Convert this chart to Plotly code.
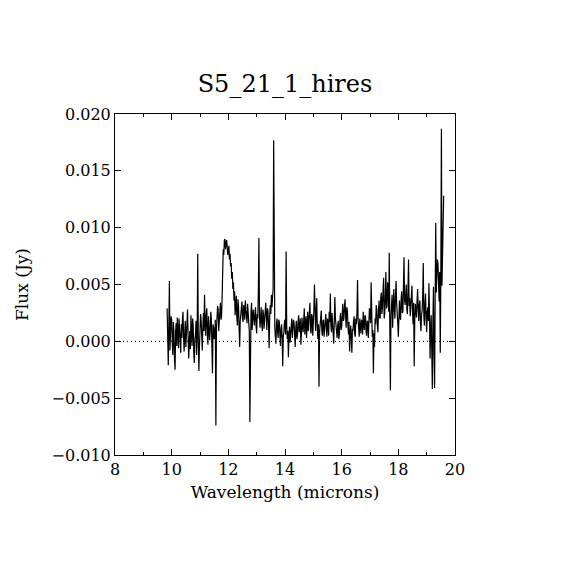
import plotly.graph_objects as go

# Spectrum (wavelength in microns, flux in mJy)
wavelength = [
    9.84, 9.86, 9.88, 9.90, 9.92, 9.94, 9.96, 9.98, 10.00, 10.02, 10.04, 10.06, 10.08, 10.10, 10.12, 10.14, 10.16, 10.18, 10.20, 10.22,
    10.24, 10.26, 10.28, 10.30, 10.32, 10.34, 10.36, 10.38, 10.40, 10.42, 10.44, 10.46, 10.48, 10.50, 10.52, 10.54, 10.56, 10.58, 10.60, 10.62,
    10.64, 10.66, 10.68, 10.70, 10.72, 10.74, 10.76, 10.78, 10.80, 10.82, 10.84, 10.86, 10.88, 10.90, 10.92, 10.94, 10.96, 10.98, 11.00, 11.02,
    11.04, 11.06, 11.08, 11.10, 11.12, 11.14, 11.16, 11.18, 11.20, 11.22, 11.24, 11.26, 11.28, 11.30, 11.32, 11.34, 11.36, 11.38, 11.40, 11.42,
    11.44, 11.46, 11.48, 11.50, 11.52, 11.54, 11.56, 11.58, 11.60, 11.62, 11.64, 11.66, 11.68, 11.70, 11.72, 11.74, 11.76, 11.78, 11.80, 11.82,
    11.84, 11.86, 11.88, 11.90, 11.92, 11.94, 11.96, 11.98, 12.00, 12.02, 12.04, 12.06, 12.08, 12.10, 12.12, 12.14, 12.16, 12.18, 12.20, 12.22,
    12.24, 12.26, 12.28, 12.30, 12.32, 12.34, 12.36, 12.38, 12.40, 12.42, 12.44, 12.46, 12.48, 12.50, 12.52, 12.54, 12.56, 12.58, 12.60, 12.62,
    12.64, 12.66, 12.68, 12.70, 12.72, 12.74, 12.76, 12.78, 12.80, 12.82, 12.84, 12.86, 12.88, 12.90, 12.92, 12.94, 12.96, 12.98, 13.00, 13.02,
    13.04, 13.06, 13.08, 13.10, 13.12, 13.14, 13.16, 13.18, 13.20, 13.22, 13.24, 13.26, 13.28, 13.30, 13.32, 13.34, 13.36, 13.38, 13.40, 13.42,
    13.44, 13.46, 13.48, 13.50, 13.52, 13.54, 13.56, 13.58, 13.60, 13.62, 13.64, 13.66, 13.68, 13.70, 13.72, 13.74, 13.76, 13.78, 13.80, 13.82,
    13.84, 13.86, 13.88, 13.90, 13.92, 13.94, 13.96, 13.98, 14.00, 14.02, 14.04, 14.06, 14.08, 14.10, 14.12, 14.14, 14.16, 14.18, 14.20, 14.22,
    14.24, 14.26, 14.28, 14.30, 14.32, 14.34, 14.36, 14.38, 14.40, 14.42, 14.44, 14.46, 14.48, 14.50, 14.52, 14.54, 14.56, 14.58, 14.60, 14.62,
    14.64, 14.66, 14.68, 14.70, 14.72, 14.74, 14.76, 14.78, 14.80, 14.82, 14.84, 14.86, 14.88, 14.90, 14.92, 14.94, 14.96, 14.98, 15.00, 15.02,
    15.04, 15.06, 15.08, 15.10, 15.12, 15.14, 15.16, 15.18, 15.20, 15.22, 15.24, 15.26, 15.28, 15.30, 15.32, 15.34, 15.36, 15.38, 15.40, 15.42,
    15.44, 15.46, 15.48, 15.50, 15.52, 15.54, 15.56, 15.58, 15.60, 15.62, 15.64, 15.66, 15.68, 15.70, 15.72, 15.74, 15.76, 15.78, 15.80, 15.82,
    15.84, 15.86, 15.88, 15.90, 15.92, 15.94, 15.96, 15.98, 16.00, 16.02, 16.04, 16.06, 16.08, 16.10, 16.12, 16.14, 16.16, 16.18, 16.20, 16.22,
    16.24, 16.26, 16.28, 16.30, 16.32, 16.34, 16.36, 16.38, 16.40, 16.42, 16.44, 16.46, 16.48, 16.50, 16.52, 16.54, 16.56, 16.58, 16.60, 16.62,
    16.64, 16.66, 16.68, 16.70, 16.72, 16.74, 16.76, 16.78, 16.80, 16.82, 16.84, 16.86, 16.88, 16.90, 16.92, 16.94, 16.96, 16.98, 17.00, 17.02,
    17.04, 17.06, 17.08, 17.10, 17.12, 17.14, 17.16, 17.18, 17.20, 17.22, 17.24, 17.26, 17.28, 17.30, 17.32, 17.34, 17.36, 17.38, 17.40, 17.42,
    17.44, 17.46, 17.48, 17.50, 17.52, 17.54, 17.56, 17.58, 17.60, 17.62, 17.64, 17.66, 17.68, 17.70, 17.72, 17.74, 17.76, 17.78, 17.80, 17.82,
    17.84, 17.86, 17.88, 17.90, 17.92, 17.94, 17.96, 17.98, 18.00, 18.02, 18.04, 18.06, 18.08, 18.10, 18.12, 18.14, 18.16, 18.18, 18.20, 18.22,
    18.24, 18.26, 18.28, 18.30, 18.32, 18.34, 18.36, 18.38, 18.40, 18.42, 18.44, 18.46, 18.48, 18.50, 18.52, 18.54, 18.56, 18.58, 18.60, 18.62,
    18.64, 18.66, 18.68, 18.70, 18.72, 18.74, 18.76, 18.78, 18.80, 18.82, 18.84, 18.86, 18.88, 18.90, 18.92, 18.94, 18.96, 18.98, 19.00, 19.02,
    19.04, 19.06, 19.08, 19.10, 19.12, 19.14, 19.16, 19.18, 19.20, 19.22, 19.24, 19.26, 19.28, 19.30, 19.32, 19.34, 19.36, 19.38, 19.40, 19.42,
    19.44, 19.46, 19.48, 19.50, 19.52, 19.54, 19.56, 19.58, 19.60,
]

flux_mjy = [
    2.9, 0.6, -2.1, 1.3, 5.3, -0.8, 0.4, 2.2, 1.9, 0.1, -1.2, 1.7, 0.8, -1.6, -2.5, 0.9, 1.6, -0.4, 2.1, 0.7,
    -0.6, 2.0, 1.2, -0.2, -1.0, 1.5, 0.3, 1.9, 2.6, 0.4, -0.9, 0.6, 1.8, -0.5, 0.2, 1.6, 2.8, 0.5, -1.5, -0.3,
    0.9, -0.7, 2.3, 1.0, -0.4, 2.0, 1.4, -1.1, -1.9, 0.2, 0.6, 1.8, -1.2, 0.5, 7.7, 0.3, -2.6, -0.5, 0.8, 2.4,
    1.9, 0.4, -0.8, 1.1, 2.5, 0.9, 4.1, 1.8, 0.5, 2.3, 2.9, 0.6, -0.3, 2.2, 1.5, 0.1, 0.9, 2.6, 2.0, 0.3,
    -2.8, 1.5, 1.2, 0.2, 0.4, 1.9, -7.4, 1.0, 1.8, 3.1, 2.9, 0.9, 1.6, 2.7, 3.4, 1.9, 2.2, 3.8, 5.5, 8.1,
    7.6, 8.9, 9.0, 8.1, 8.6, 8.9, 8.3, 7.6, 8.0, 8.4, 7.2, 7.7, 6.6, 6.9, 5.5, 6.1, 4.6, 5.2, 3.6, 4.4,
    2.3, 3.4, 4.0, 2.1, 1.4, 3.7, 3.1, 1.2, -0.5, 1.8, 2.2, 3.0, 3.5, 2.0, 1.7, 3.2, 2.9, 1.9, 3.6, 2.8,
    2.4, 1.6, 3.3, 2.7, 1.8, 0.9, -7.1, 1.9, 2.6, 3.4, 1.0, 2.2, 2.8, 1.9, 1.4, 2.5, 3.0, 1.3, 0.7, 2.4,
    2.0, 4.5, 9.1, 2.2, 1.2, 2.0, 3.0, 1.5, 0.9, 2.8, 2.4, 1.1, 1.6, 2.6, 3.4, 1.8, 1.0, 2.9, 2.7, 1.4,
    -0.6, 2.1, 3.2, 2.4, 4.1, 3.0, 3.6, 4.6, 17.7, 2.5, 1.2, 0.4, -0.2, 1.6, 2.0, 0.8, 0.3, 1.9, 1.7, 0.6,
    -0.4, 1.1, 1.5, 0.2, -2.2, 0.5, 0.8, 1.7, 1.9, 0.6, 7.9, 1.4, 0.2, 0.9, -1.4, 0.4, 1.3, -0.1, 0.5, 1.5,
    2.0, 0.3, 0.9, 1.9, 1.6, 0.4, -0.5, 1.2, 1.8, 0.2, 0.6, 1.7, 2.3, 0.8, 1.1, 2.0, -0.3, 0.7, 2.1, 1.3,
    0.8, 1.8, 2.9, 0.6, 1.4, 2.2, 0.3, 1.6, 2.6, 0.9, 1.5, 2.7, 3.4, 1.0, 0.7, 2.4, 2.2, 0.5, 1.2, 2.8,
    5.0, 1.9, 0.9, 2.6, 3.8, 1.2, 0.2, 1.5, -4.0, 0.8, 1.7, 2.3, 2.7, 0.9, 0.5, 1.8, 1.9, 0.4, 1.0, 2.0,
    2.4, 1.1, 0.4, 2.0, 1.6, 0.5, 2.6, 1.7, 4.2, 1.4, 0.8, 2.5, 1.9, 0.7, -0.2, 1.6, 3.9, 2.0, 1.1, 0.6,
    0.3, 1.4, 1.8, 0.2, 0.6, 1.9, 2.5, 1.0, 1.3, 2.4, 3.3, 1.8, 2.0, 3.1, 3.7, 2.2, 1.2, 3.0, 2.8, 1.5,
    0.6, 1.7, -0.9, 0.5, 1.4, 0.2, -1.0, 1.1, 0.9, 1.8, 2.2, 0.6, 0.4, 2.0, 1.5, 2.6, 5.4, 1.9, 1.3, 0.4,
    2.0, 1.2, 0.7, 1.9, 1.8, 0.6, 2.6, 1.5, 1.0, 2.3, 2.2, 0.9, 0.5, 1.8, 1.7, 0.3, 1.1, 2.9, 2.4, 1.6,
    5.2, 1.3, 0.4, 1.0, -2.8, 0.7, -0.5, 2.0, 1.5, 3.2, 2.8, 1.4, 0.8, 2.7, 3.6, 2.1, 2.0, 3.9, 4.3, 2.4,
    3.0, 4.4, 5.6, 2.0, 2.5, 4.2, 6.1, 2.9, 3.1, 5.2, 4.8, 2.6, 7.8, 1.0, -4.3, 2.2, 3.5, 4.1, 1.2, 3.3,
    4.6, 2.9, 2.0, 4.0, 5.3, 3.4, 2.8, 1.6, 0.4, 2.7, 3.6, 2.1, 1.9, 3.8, 4.4, 2.5, 2.6, 4.7, 7.4, 3.6,
    3.2, 4.1, 5.0, 2.8, 2.4, 4.5, 7.2, 3.1, 3.8, 2.2, 2.9, 4.0, 4.9, 2.6, 1.5, 3.4, -2.2, 1.9, 3.3, 2.7,
    2.1, 3.5, 4.6, 2.9, 1.8, 3.2, 3.6, 1.7, 0.9, 2.4, 2.7, 4.0, 6.9, 2.2, 1.4, 3.3, 4.2, 2.0, 0.8, 2.6,
    3.0, 1.8, 5.1, 2.4, -1.5, 0.9, 2.3, -0.8, -4.2, 1.6, 4.8, -1.2, -4.1, 3.9, 10.4, 4.3, 5.2, 7.2, 6.8, 5.5,
    3.5, 6.1, -1.0, 5.8, 18.7, 4.9, 7.0, 9.6, 12.8,
]

assert len(wavelength) == len(flux_mjy)
flux = [v / 1000 for v in flux_mjy]

x_ticks = [8, 10, 12, 14, 16, 18, 20]
y_ticks = [-0.010, -0.005, 0.000, 0.005, 0.010, 0.015, 0.020]

font = "DejaVu Serif"

fig = go.Figure(go.Scatter(
    x=wavelength, y=flux, mode="lines",
    line=dict(color="black", width=1.2),
    showlegend=False,
))

# dotted zero level
fig.add_hline(y=0, line=dict(color="black", width=1, dash="1px,3px"))

axis_style = dict(
    showgrid=False, zeroline=False,
    showline=True, linecolor="black", linewidth=1, mirror="ticks",
    ticks="inside", ticklen=6, tickcolor="black", tickwidth=1,
    tickfont=dict(family=font, size=16, color="black"),
)

fig.update_xaxes(
    range=[8, 20], tickvals=x_ticks,
    minor=dict(ticks="inside", ticklen=3, dtick=1, tickcolor="black", showgrid=False),
    title=dict(text="Wavelength (microns)", font=dict(family=font, size=17, color="black"), standoff=7),
    **axis_style,
)
fig.update_yaxes(
    range=[-0.010, 0.020], tickvals=y_ticks, tickformat=".3f",
    title=dict(text="Flux (Jy)", font=dict(family=font, size=17, color="black"), standoff=18),
    **axis_style,
)

fig.update_layout(
    width=570, height=570,
    margin=dict(l=107, r=123, t=106, b=123),
    paper_bgcolor="white", plot_bgcolor="white",
    title=dict(text="S5_21_1_hires", x=(107 + 170) / 570, xanchor="center", y=0.868, yanchor="middle",
               font=dict(family=font, size=24, color="black")),
)

fig.write_html("out.html")
